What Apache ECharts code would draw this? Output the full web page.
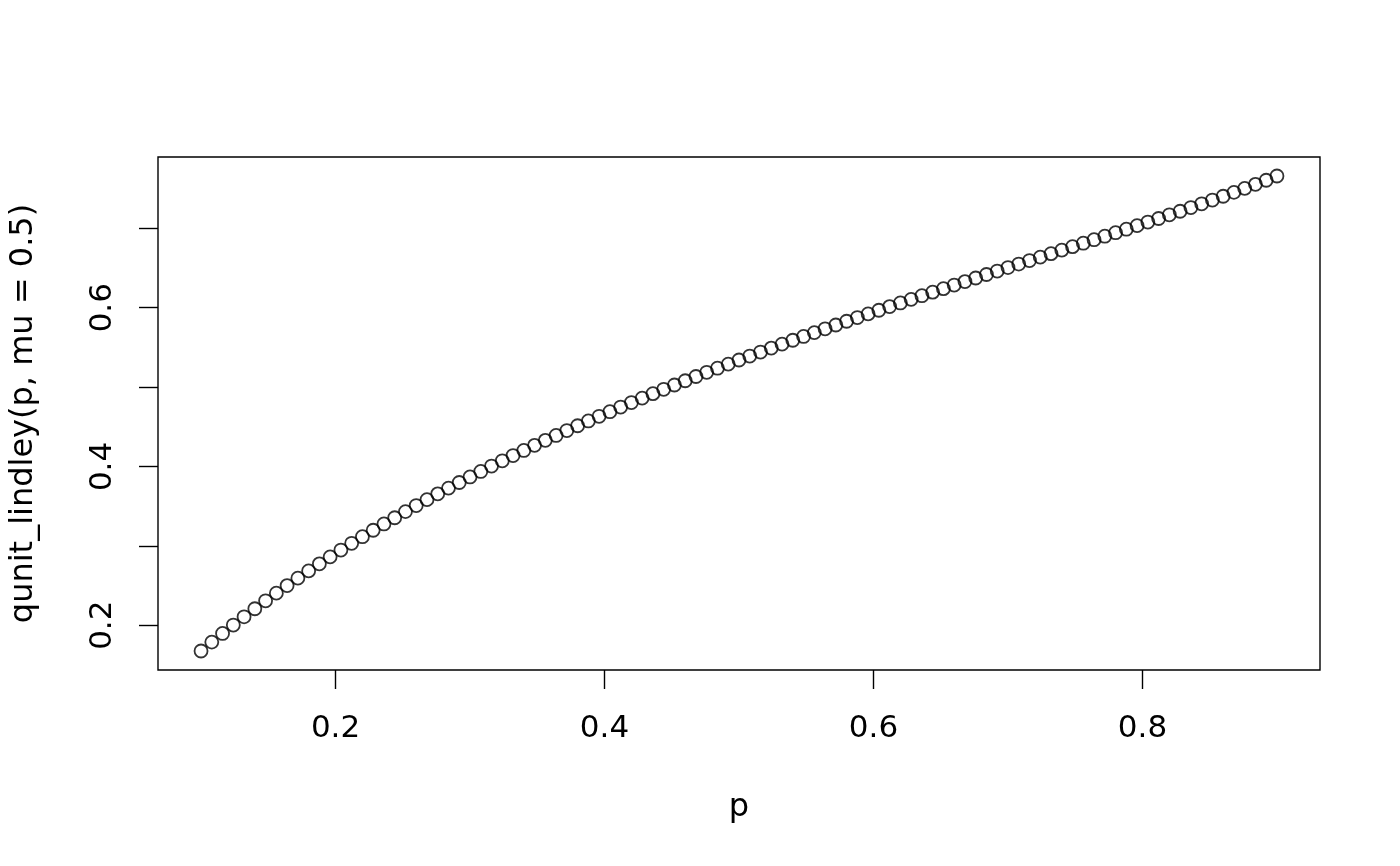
<!DOCTYPE html>
<html>
<head>
<meta charset="utf-8">
<script src="https://cdn.jsdelivr.net/npm/echarts@6/dist/echarts.min.js"></script>
<style>
html,body{margin:0;padding:0;background:#fff;}
#chart{width:1400px;height:866px;}
</style>
</head>
<body>
<div id="chart"></div>
<script>
// probabilities p
var pValues = [0.100,0.108,0.116,0.124,0.132,0.140,0.148,0.156,0.164,0.172,
0.180,0.188,0.196,0.204,0.212,0.220,0.228,0.236,0.244,0.252,
0.260,0.268,0.276,0.284,0.292,0.300,0.308,0.316,0.324,0.332,
0.340,0.348,0.356,0.364,0.372,0.380,0.388,0.396,0.404,0.412,
0.420,0.428,0.436,0.444,0.452,0.460,0.468,0.476,0.484,0.492,
0.500,0.508,0.516,0.524,0.532,0.540,0.548,0.556,0.564,0.572,
0.580,0.588,0.596,0.604,0.612,0.620,0.628,0.636,0.644,0.652,
0.660,0.668,0.676,0.684,0.692,0.700,0.708,0.716,0.724,0.732,
0.740,0.748,0.756,0.764,0.772,0.780,0.788,0.796,0.804,0.812,
0.820,0.828,0.836,0.844,0.852,0.860,0.868,0.876,0.884,0.892,
0.900];
// qunit_lindley(p, mu = 0.5)
var qValues = [0.1675,0.1787,0.1896,0.2002,0.2106,0.2207,0.2307,0.2404,0.2499,0.2593,
0.2684,0.2773,0.2861,0.2947,0.3032,0.3115,0.3196,0.3276,0.3354,0.3431,
0.3507,0.3582,0.3655,0.3727,0.3798,0.3868,0.3937,0.4005,0.4071,0.4137,
0.4202,0.4266,0.4329,0.4391,0.4452,0.4513,0.4573,0.4632,0.4690,0.4748,
0.4805,0.4861,0.4917,0.4972,0.5026,0.5080,0.5133,0.5186,0.5238,0.5289,
0.5341,0.5391,0.5441,0.5491,0.5541,0.5590,0.5638,0.5686,0.5734,0.5782,
0.5829,0.5876,0.5922,0.5968,0.6014,0.6060,0.6105,0.6151,0.6196,0.6240,
0.6285,0.6329,0.6374,0.6418,0.6462,0.6506,0.6550,0.6594,0.6637,0.6681,
0.6725,0.6769,0.6813,0.6857,0.6901,0.6945,0.6989,0.7034,0.7079,0.7124,
0.7170,0.7215,0.7262,0.7309,0.7356,0.7404,0.7453,0.7503,0.7554,0.7606,
0.7659];
var xTicks = [0.2, 0.4, 0.6, 0.8];
var yTicks = [0.2, 0.3, 0.4, 0.5, 0.6, 0.7];
var yLabels = [0.2, 0.4, 0.6];
var xTitle = 'p';
var yTitle = 'qunit_lindley(p, mu = 0.5)';

var points = pValues.map(function (p, i) { return [p, qValues[i]]; });

var FONT = 'DejaVu Sans';
var FS = 31;
var FS_TITLE = 32;

var chart = echarts.init(document.getElementById('chart'), null, {renderer: 'canvas'});
chart.setOption({
  animation: false,
  backgroundColor: '#ffffff',
  grid: {
    left: 157, right: 80, top: 157, bottom: 196,
    show: true, borderColor: '#000', borderWidth: 1.4, backgroundColor: 'transparent',
    containLabel: false
  },
  xAxis: {
    type: 'value',
    min: 0.068, max: 0.932,
    name: xTitle,
    nameLocation: 'middle',
    nameGap: 122,
    nameTextStyle: {fontFamily: FONT, fontSize: FS_TITLE, color: '#000'},
    axisLine: {show: false},
    splitLine: {show: false},
    axisTick: {show: true, customValues: xTicks, length: 19, lineStyle: {color: '#000', width: 1.4}},
    axisLabel: {show: true, customValues: xTicks, margin: 43, fontFamily: FONT, fontSize: FS, color: '#000'}
  },
  yAxis: {
    type: 'value',
    min: 0.14356, max: 0.78986,
    name: yTitle,
    nameLocation: 'middle',
    nameGap: 118,
    nameRotate: 90,
    nameTextStyle: {fontFamily: FONT, fontSize: FS_TITLE, color: '#000'},
    axisLine: {show: false},
    splitLine: {show: false},
    axisTick: {show: true, customValues: yTicks, length: 19, lineStyle: {color: '#000', width: 1.4}},
    axisLabel: {show: true, customValues: yLabels, rotate: 90, margin: 40, fontFamily: FONT, fontSize: FS, color: '#000'}
  },
  series: [{
    type: 'scatter',
    data: points,
    symbol: 'circle',
    symbolSize: 13,
    itemStyle: {color: 'rgba(0,0,0,0)', borderColor: '#000', borderWidth: 1.8},
    emphasis: {disabled: true}
  }]
});
</script>
</body>
</html>
